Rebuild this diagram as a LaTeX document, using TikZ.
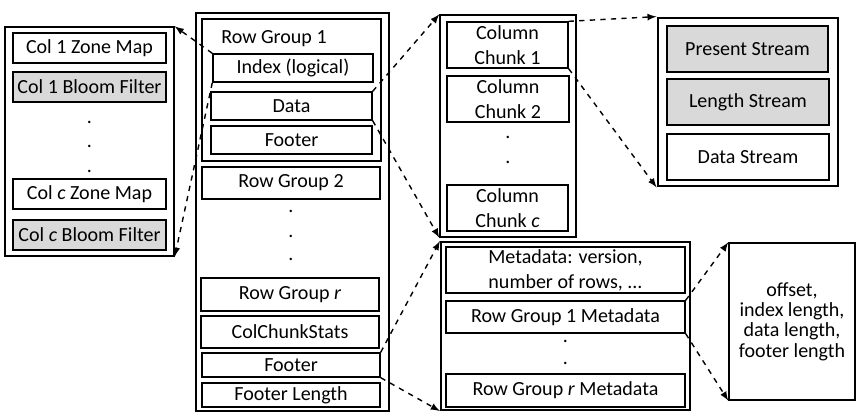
\documentclass[tikz,border=0pt]{standalone}
\usepackage{fontspec}
\setmainfont{Carlito}
\usetikzlibrary{arrows}

\tikzset{wh/.style 2 args={minimum width=#1*0.02cm, minimum height=#2*0.02cm}}

\begin{document}
\begin{tikzpicture}[x=0.02cm, y=-0.02cm, font=\fontsize{11.4}{14.2}\selectfont]
    \tikzstyle{box}=[draw, rectangle, inner sep=0pt, line width=0.8pt, align=center]
    \tikzstyle{thick box}=[box, line width=1.6pt]
    \tikzstyle{gray box}=[box, fill=black!15]
    \tikzstyle{dot}=[inner sep=0pt]
    \tikzstyle{link}=[->, >=latex, dashed, line width=0.8pt]

    \useasboundingbox (0,0) rectangle (860,414);

    % Draw the zone map / bloom filter column
    \node[box, wh={169}{229}] (zone) at (89.5,141.5) {};
    \node[box, wh={153}{30}] (z1) at (89.5,48) {Col 1 Zone Map};
    \node[gray box, wh={153}{30}] (b1) at (89.5,87) {Col 1 Bloom Filter};
    \node[box, wh={153}{30}] (zc) at (89.5,194) {Col \textit{c} Zone Map};
    \node[gray box, wh={153}{30}] (bc) at (89.5,235) {Col \textit{c} Bloom Filter};
    \foreach \name / \y in {1/122, 2/146, 3/171}
        \node[dot] (zd-\name) at (89.5,\y) {.};

    % Draw the file with its row groups
    \node[box, wh={193}{398}] (file) at (292.5,212) {};
    \node[thick box, wh={179}{142}] (rg1) at (291.5,90) {};
    \node[dot] (rg1-label) at (274,39) {Row Group 1};
    \node[box, wh={160}{28}] (idx) at (293,68) {Index (logical)};
    \node[box, wh={161}{28}] (data) at (291.5,106) {Data};
    \node[box, wh={161}{28}] (rg1-ftr) at (291.5,140) {Footer};
    \node[box, wh={178}{32}] (rg2) at (291,183) {Row Group 2};
    \foreach \name / \y in {1/211, 2/236, 3/259}
        \node[dot] (rd-\name) at (291,\y) {.};
    \node[thick box, wh={178}{33}] (rgr) at (290,294.5) {Row Group \textit{r}};
    \node[thick box, wh={178}{32}] (stats) at (290,332) {ColChunkStats};
    \node[box, wh={178}{24}] (ftr) at (291,365) {Footer};
    \node[box, wh={178}{24}] (flen) at (291,395) {Footer Length};

    % Draw the column chunks
    \node[box, wh={136}{222}] (chunks) at (508,126) {};
    \node[box, wh={121}{46}] (cc1) at (507.5,45) {Column\\Chunk 1};
    \node[box, wh={122}{46}] (cc2) at (508,99) {Column\\Chunk 2};
    \node[box, wh={121}{46}] (ccc) at (507.5,208) {Column\\Chunk \textit{c}};
    \foreach \name / \y in {1/137, 2/162}
        \node[dot] (cd-\name) at (508,\y) {.};

    % Draw the streams
    \node[thick box, wh={180}{168}] (streams) at (748,102) {};
    \node[gray box, wh={161}{46}] (ps) at (747.5,49) {Present Stream};
    \node[gray box, wh={162}{46}] (ls) at (748,102) {Length Stream};
    \node[box, wh={162}{46}] (ds) at (748,157) {Data Stream};

    % Draw the footer metadata
    \node[box, line width=1.2pt, wh={249}{168}] (meta) at (565.5,326) {};
    \node[box, wh={239}{46}] (md) at (565.5,270) {Metadata: version,\\number of rows, ...};
    \node[box, wh={239}{32}] (rg1m) at (565.5,317) {Row Group 1 Metadata};
    \foreach \name / \y in {1/341, 2/363}
        \node[dot] (md-\name) at (565.5,\y) {.};
    \node[box, wh={239}{33}] (rgrm) at (565.5,390.5) {Row Group \textit{r} Metadata};

    % Draw the row group offsets
    \node[box, wh={126}{157}, font=\fontsize{11.4}{11.6}\selectfont] (info) at (792,321.5)
        {offset,\\index length,\\data length,\\footer length};

    % Connect every part with its expansion
    \foreach \source / \from / \dest / \to in {idx/west/zone/east, data/east/chunks/west,
        ftr/east/meta/west, cc1/east/streams/west, rg1m/east/info/west}
    {
        \draw[link] (\source.north \from) -- (\dest.north \to);
        \draw[link] (\source.south \from) -- (\dest.south \to);
    }

\end{tikzpicture}
\end{document}
